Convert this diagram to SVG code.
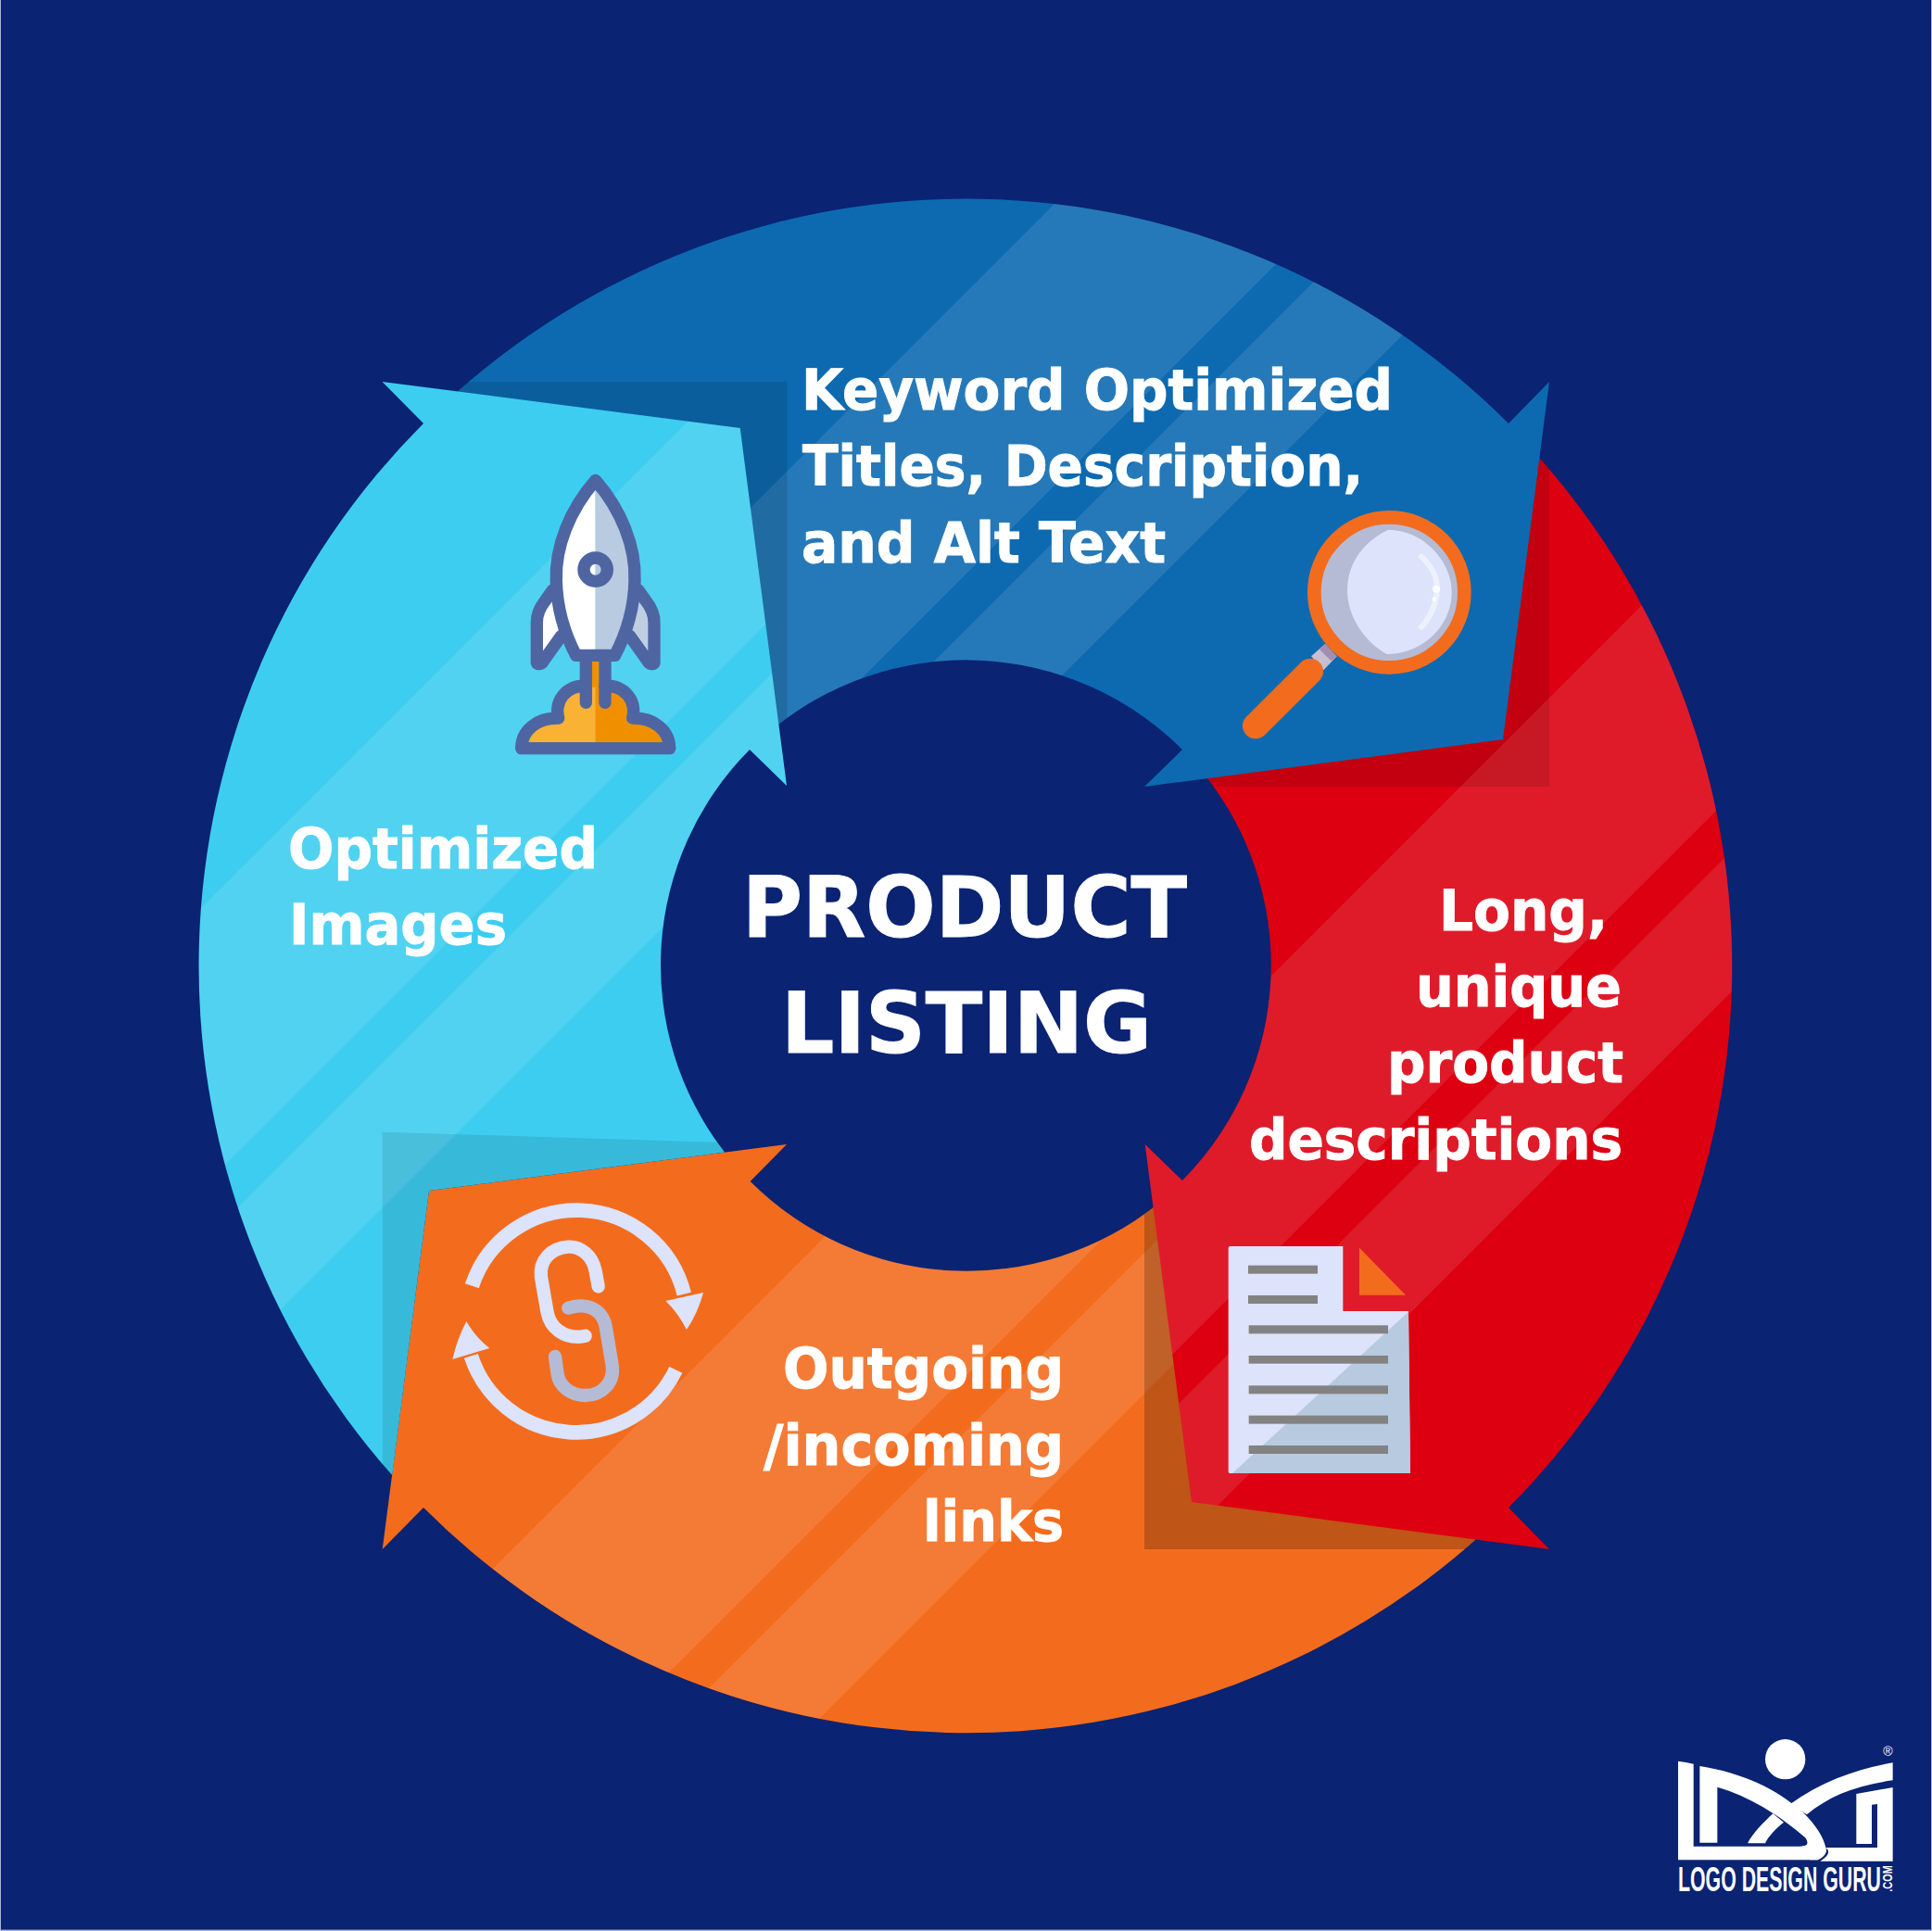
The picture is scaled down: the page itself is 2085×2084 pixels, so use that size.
<svg xmlns="http://www.w3.org/2000/svg" width="2085" height="2084" viewBox="0 0 2085 2084">
<style>
.t{font-family:"DejaVu Sans","Liberation Sans",sans-serif;font-weight:700;font-size:60px;fill:#fff;stroke:#fff;stroke-width:1}
.h{font-size:90px}
.lt{fill:#fff;fill-opacity:.105}
.w{fill:#fff}
.rk{fill:none;stroke:#4f65a2;stroke-width:40;stroke-linejoin:round;stroke-linecap:round}
.gl{fill:#828282}
</style>
<defs>
<path id="pBlue" d="M1672,412L1622,798L1235,849L1276,809A330,330 0 0 0 830,790L480,435A828,828 0 0 1 1628,457Z"/>
<path id="pCyan" d="M412.5,412L798.7,462L849,848L809,809A330,330 0 0 0 782,1243.6L463,1285L423.2,1592A828,828 0 0 1 457,457Z"/>
<path id="pOrange" d="M412.7,1672L463,1285L849,1235L809.7,1275A330,330 0 0 0 1250,1299L1600,1655A828,828 0 0 1 457,1627Z"/>
<path id="pRed" d="M1672,1672L1286,1621L1235.7,1235L1276,1274A330,330 0 0 0 1295,830L1655,487A828,828 0 0 1 1628,1627Z"/>
<clipPath id="cBlue"><use href="#pBlue"/></clipPath>
<clipPath id="cCyan"><use href="#pCyan"/></clipPath>
<clipPath id="cOrange"><use href="#pOrange"/></clipPath>
<clipPath id="cRed"><use href="#pRed"/></clipPath>
</defs>
<rect id="background" width="2085" height="2084" fill="#0a2373"/>
<rect x="0" y="0" width="1" height="2084" fill="#a9b4d6"/>
<rect x="2084" y="0" width="1" height="2084" fill="#a9b4d6"/>
<rect x="0" y="2082.6" width="2085" height="1.4" fill="#a9b4d6"/>

<g id="segment-orange">
<use href="#pOrange" fill="#f36c1e"/>
<g clip-path="url(#cOrange)">
<path class="lt" d="M2225,0H2527L0,2527V2225Z"/>
<path class="lt" d="M2587,0H2739L0,2739V2587Z"/>
<rect x="1235" y="1100" width="700" height="572" fill="#000" fill-opacity=".21"/>
</g>
</g>
<g id="segment-red">
<use href="#pRed" fill="#dc0011"/>
<g clip-path="url(#cRed)">
<path class="lt" d="M2425,0H2727L0,2727V2425Z"/>
<path class="lt" d="M2787,0H2939L0,2939V2787Z"/>
<rect x="1200" y="300" width="472" height="549" fill="#000" fill-opacity=".11"/>
</g>
</g>
<g id="segment-blue">
<use href="#pBlue" fill="#0d6ab0"/>
<g clip-path="url(#cBlue)">
<path class="lt" d="M1358,0H1662L0,1662V1358Z"/>
<path class="lt" d="M1722,0H1875L0,1875V1722Z"/>
<rect x="300" y="412" width="549.5" height="560" fill="#000" fill-opacity=".11"/>
</g>
</g>
<g id="segment-cyan">
<use href="#pCyan" fill="#3dcdf0"/>
<g clip-path="url(#cCyan)">
<path class="lt" d="M1197,0H1500L0,1500V1197Z"/>
<path class="lt" d="M1560,0H1716L0,1716V1560Z"/>
<path d="M412.7,1221.7L849,1235V1700H412.7Z" fill="#000" fill-opacity=".09"/>
</g>
</g>

<g id="icon-rocket" transform="translate(380,380) scale(.33333)">
<path d="M757,1080C690,1080 655,1130 668,1185C600,1183 548,1225 548,1283H788V1080Z" fill="#f9b233"/>
<path d="M819,1080C886,1080 921,1130 908,1185C976,1183 1028,1225 1028,1283H788V1080Z" fill="#f09000"/>
<rect x="776" y="990" width="24" height="95" fill="#f09000"/>
<path class="rk" d="M757,1080C690,1080 655,1130 668,1185C600,1183 548,1225 548,1283H1028C1028,1225 976,1183 908,1185C921,1130 886,1080 819,1080"/>
<path class="rk" d="M757,990V1135M819,990V1135"/>
<path class="rk" style="fill:#fff" d="M650,770L625,805C605,830 598,850 598,875V1005C598,1012 612,1012 618,1002L678,918"/>
<path class="rk" style="fill:#c0cee2" d="M926,770L951,805C971,830 978,850 978,875V1005C978,1012 964,1012 958,1002L898,918"/>
<path d="M788,420C705,510 657,630 661,740C663,830 690,915 725,982H788Z" fill="#fff"/>
<path d="M788,420C871,510 919,630 915,740C913,830 886,915 851,982H788Z" fill="#b8cbe0"/>
<path class="rk" d="M788,415C705,510 657,630 661,740C663,830 690,915 725,982H851C886,915 913,830 915,740C919,630 871,510 788,415Z"/>
<circle class="rk" cx="788" cy="704" r="38"/>
</g>

<g id="icon-magnifier" transform="translate(1240,380) scale(.33333)">
<path d="M570,945L608,985L565,1030L525,985Z" fill="#c9bdd0"/>
<path d="M570,945L608,985L590,1000L552,963Z" fill="#a08fb0"/>
<path d="M522,1034L345,1210" fill="none" stroke="#f36c1e" stroke-width="84" stroke-linecap="round"/>
<circle cx="778" cy="778" r="243" fill="#b5bbd4" stroke="#f36c1e" stroke-width="44"/>
<path d="M775,575C700,610 640,680 642,775C644,860 700,940 770,978C880,980 980,890 980,778C980,670 880,575 775,575Z" fill="#dce3fb"/>
<path d="M882,662C920,700 935,730 932,775C930,815 910,860 882,890" fill="none" stroke="#eef1fd" stroke-width="18" stroke-linecap="round"/>
<circle cx="930" cy="767" r="12" fill="#fff"/>
<circle cx="923" cy="800" r="7" fill="#fff"/>
</g>

<g id="icon-document" transform="translate(1220,1220) scale(.33333)">
<path d="M317,380Q317,375 322,375H688V585H900L906,1110H322Q317,1110 317,1105Z" fill="#dce3fb"/>
<path d="M900,587L906,1110H330Z" fill="#b7cadf"/>
<path d="M741,380L891,533H741Z" fill="#f36c1e"/>
<rect class="gl" x="381" y="437" width="225" height="27"/>
<rect class="gl" x="381" y="534" width="225" height="27"/>
<rect class="gl" x="383" y="631" width="451" height="27"/>
<rect class="gl" x="383" y="729" width="451" height="26"/>
<rect class="gl" x="383" y="826" width="451" height="27"/>
<rect class="gl" x="383" y="923" width="451" height="27"/>
<rect class="gl" x="383" y="1020" width="451" height="27"/>
</g>

<g id="icon-links" transform="translate(400,1220) scale(.33333)">
<path d="M328,503A358,358 0 0 1 1015,530" fill="none" stroke="#dce3fb" stroke-width="47"/>
<path d="M988,775A358,358 0 0 1 325,730" fill="none" stroke="#dce3fb" stroke-width="47"/>
<path d="M955,552L1077,525Q1060,590 1023,645Q995,590 955,552Z" fill="#dce3fb"/>
<path d="M385,705L265,741Q280,675 310,618Q340,670 385,705Z" fill="#dce3fb"/>
<path d="M640,575L660,570C715,560 755,590 762,640L782,760C790,815 750,858 695,858C645,858 610,825 605,790L597,732" fill="none" stroke="#b5bbd4" stroke-width="43" stroke-linecap="round"/>
<path d="M737,505L728,455C718,405 680,375 640,377C585,380 545,420 552,475L572,590C582,640 625,672 680,668L695,665" fill="none" stroke="#dce3fb" stroke-width="43" stroke-linecap="round"/>
</g>

<g id="label-center">
<text class="t h" x="801" y="1010.7" textLength="480" lengthAdjust="spacingAndGlyphs">PRODUCT</text>
<text class="t h" x="843" y="1135.7" textLength="400" lengthAdjust="spacingAndGlyphs">LISTING</text>
</g>
<g id="label-blue">
<text class="t" x="865" y="441.7" textLength="638" lengthAdjust="spacingAndGlyphs">Keyword Optimized</text>
<text class="t" x="866" y="524" textLength="605" lengthAdjust="spacingAndGlyphs">Titles, Description,</text>
<text class="t" x="865" y="606.7" textLength="393" lengthAdjust="spacingAndGlyphs">and Alt Text</text>
</g>
<g id="label-red">
<text class="t" x="1553" y="1004" textLength="182" lengthAdjust="spacingAndGlyphs">Long,</text>
<text class="t" x="1528" y="1085.7" textLength="222" lengthAdjust="spacingAndGlyphs">unique</text>
<text class="t" x="1497" y="1168" textLength="255" lengthAdjust="spacingAndGlyphs">product</text>
<text class="t" x="1348" y="1251" textLength="403" lengthAdjust="spacingAndGlyphs">descriptions</text>
</g>
<g id="label-orange">
<text class="t" x="845" y="1498" textLength="303" lengthAdjust="spacingAndGlyphs">Outgoing</text>
<text class="t" x="824" y="1581" textLength="324" lengthAdjust="spacingAndGlyphs">/incoming</text>
<text class="t" x="996" y="1663" textLength="152" lengthAdjust="spacingAndGlyphs">links</text>
</g>
<g id="label-cyan">
<text class="t" x="311" y="936.7" textLength="334" lengthAdjust="spacingAndGlyphs">Optimized</text>
<text class="t" x="312" y="1019" textLength="235" lengthAdjust="spacingAndGlyphs">Images</text>
</g>

<g id="logo" transform="translate(1780,1850) scale(.33333)">
<circle class="w" cx="440" cy="146" r="65"/>
<path class="w" d="M93,152Q118,155 143,161V428H490C510,428 520,420 505,400L572,435C575,450 565,462 545,472H93Z"/>
<path class="w" d="M163,168C300,190 410,240 500,320C540,360 565,400 572,435C575,450 565,462 545,472H520L490,428C510,428 520,420 505,400C420,325 320,265 220,236V416H163Z"/>
<path class="w" d="M788,157V214C670,230 580,265 510,325L455,292C560,215 680,175 788,157Z"/>
<path class="w" d="M318,418C335,385 370,350 400,322L435,350C410,370 385,395 375,418Z"/>
<path class="w" d="M670,258L788,237V476H553C575,462 590,445 570,432H738V291L720,293V420H670Z"/>
<text x="93" y="572" style="font-family:'Liberation Sans Narrow','Liberation Sans',sans-serif;font-size:112px;font-weight:700;fill:#fff" textLength="657" lengthAdjust="spacingAndGlyphs">LOGO DESIGN GURU</text>
<text transform="translate(786,575) rotate(-90)" style="font-family:'Liberation Sans Narrow','Liberation Sans',sans-serif;font-size:44px;font-weight:700;fill:#fff" textLength="85" lengthAdjust="spacingAndGlyphs">.COM</text>
<text x="772" y="135" text-anchor="middle" style="font-family:'Liberation Sans',sans-serif;font-size:42px;fill:#fff">®</text>
</g>
</svg>
